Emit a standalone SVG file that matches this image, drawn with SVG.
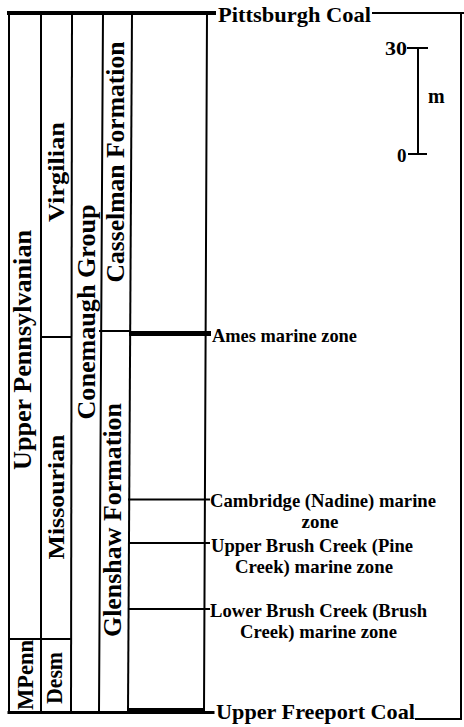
<svg xmlns="http://www.w3.org/2000/svg" width="464" height="727" viewBox="0 0 464 727">
<style>
.ln{stroke:#000;stroke-width:2;fill:none;stroke-linecap:square}
.t{font-family:"Liberation Serif","Times New Roman",serif;font-weight:bold;fill:#000}
.lab{font-size:19px}
.v{text-anchor:middle}
</style>
<rect width="464" height="727" fill="#fff"/>
<g id="connectors">
  <line class="ln" x1="9" y1="13" x2="9" y2="713"/>
  <line class="ln" x1="41" y1="13" x2="41" y2="713"/>
  <line class="ln" x1="72" y1="13" x2="71" y2="713"/>
  <line class="ln" x1="103" y1="13" x2="99" y2="713"/>
  <line class="ln" x1="132" y1="13" x2="128" y2="713"/>
  <line class="ln" x1="207" y1="13" x2="204" y2="713"/>
  <line class="ln" x1="9" y1="13" x2="214" y2="13" style="stroke-width:4"/>
  <line class="ln" x1="9" y1="712.5" x2="213" y2="712.5" style="stroke-width:3"/>
  <rect x="128" y="708" width="76" height="6" fill="#000"/>
  <line class="ln" x1="373" y1="13" x2="463" y2="13"/>
  <line class="ln" x1="461" y1="13" x2="461" y2="719"/>
  <line class="ln" x1="416" y1="719" x2="461" y2="719"/>
  <line class="ln" x1="41" y1="337" x2="71" y2="337"/>
  <line class="ln" x1="100" y1="331" x2="129" y2="331"/>
  <line x1="129" y1="333.5" x2="211" y2="333.5" stroke="#000" stroke-width="5"/>
  <line class="ln" x1="9" y1="639" x2="71" y2="639"/>
  <line class="ln" x1="129" y1="499.5" x2="209" y2="499.5"/>
  <line class="ln" x1="129" y1="543" x2="209" y2="543"/>
  <line class="ln" x1="129" y1="609" x2="209" y2="609"/>
  <line class="ln" x1="408" y1="48" x2="427" y2="48"/>
  <line class="ln" x1="418" y1="48" x2="418" y2="154"/>
  <line class="ln" x1="409" y1="154" x2="426" y2="154"/>
</g>
<g id="pittsburgh-coal"><text class="t" x="218" y="22" font-size="22" textLength="153" lengthAdjust="spacingAndGlyphs">Pittsburgh Coal</text></g>
<g id="upper-freeport-coal"><text class="t" x="216" y="719" font-size="22" textLength="199" lengthAdjust="spacingAndGlyphs">Upper Freeport Coal</text></g>
<g id="scale">
  <text class="t" x="385" y="55" font-size="19" textLength="22" lengthAdjust="spacingAndGlyphs">30</text>
  <text class="t" x="397" y="162" font-size="19">0</text>
  <text class="t" x="428" y="103" font-size="20">m</text>
</g>
<g id="ames"><text class="t lab" x="212" y="342" textLength="145" lengthAdjust="spacingAndGlyphs">Ames marine zone</text></g>
<g id="cambridge">
  <text class="t lab" x="210" y="507" textLength="226" lengthAdjust="spacingAndGlyphs">Cambridge (Nadine) marine</text>
  <text class="t lab" x="320" y="528" text-anchor="middle">zone</text>
</g>
<g id="upper-brush-creek">
  <text class="t lab" x="211" y="552" textLength="202" lengthAdjust="spacingAndGlyphs">Upper Brush Creek (Pine</text>
  <text class="t lab" x="235" y="573" textLength="158" lengthAdjust="spacingAndGlyphs">Creek) marine zone</text>
</g>
<g id="lower-brush-creek">
  <text class="t lab" x="210" y="617" textLength="217" lengthAdjust="spacingAndGlyphs">Lower Brush Creek (Brush</text>
  <text class="t lab" x="240" y="638" textLength="157" lengthAdjust="spacingAndGlyphs">Creek) marine zone</text>
</g>
<g id="upper-pennsylvanian"><text class="t v" transform="translate(31,350) rotate(-90)" font-size="26" textLength="240" lengthAdjust="spacingAndGlyphs">Upper Pennsylvanian</text></g>
<g id="virgilian"><text class="t v" transform="translate(64,172) rotate(-90)" font-size="24" textLength="100" lengthAdjust="spacingAndGlyphs">Virgilian</text></g>
<g id="missourian"><text class="t v" transform="translate(64,497) rotate(-90)" font-size="24" textLength="125" lengthAdjust="spacingAndGlyphs">Missourian</text></g>
<g id="conemaugh-group"><text class="t v" transform="translate(95,312) rotate(-90)" font-size="25" textLength="215" lengthAdjust="spacingAndGlyphs">Conemaugh Group</text></g>
<g id="casselman-formation"><text class="t v" transform="translate(124,162) rotate(-90)" font-size="26" textLength="241" lengthAdjust="spacingAndGlyphs">Casselman Formation</text></g>
<g id="glenshaw-formation"><text class="t v" transform="translate(121,520) rotate(-90)" font-size="26" textLength="234" lengthAdjust="spacingAndGlyphs">Glenshaw Formation</text></g>
<g id="mpenn"><text class="t v" transform="translate(33,675) rotate(-90)" font-size="23" textLength="70" lengthAdjust="spacingAndGlyphs">MPenn</text></g>
<g id="desm"><text class="t v" transform="translate(62,678) rotate(-90)" font-size="23" textLength="52" lengthAdjust="spacingAndGlyphs">Desm</text></g>
</svg>
